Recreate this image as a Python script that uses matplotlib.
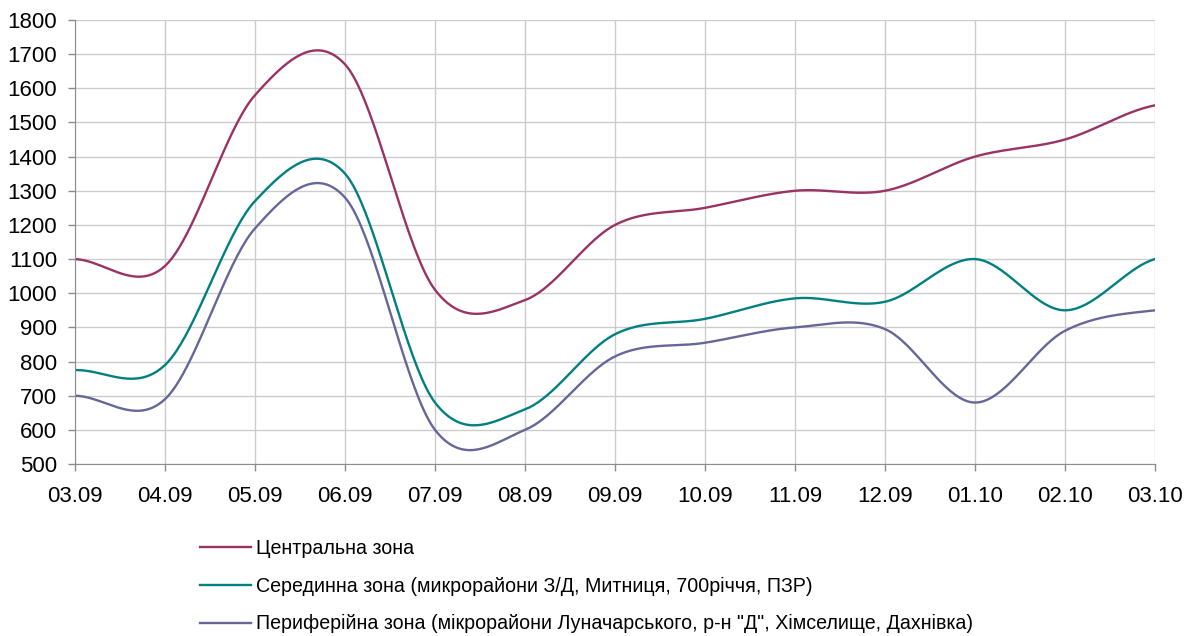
import numpy as np
import matplotlib.pyplot as plt

# categories (dates) and the three zone series
dates = ['03.09', '04.09', '05.09', '06.09', '07.09', '08.09', '09.09',
         '10.09', '11.09', '12.09', '01.10', '02.10', '03.10']
central = [1100, 1080, 1580, 1670, 1010, 980, 1200, 1250, 1300, 1300, 1400, 1450, 1550]
middle = [775, 790, 1270, 1350, 680, 660, 880, 925, 985, 975, 1100, 950, 1100]
outer = [700, 690, 1190, 1280, 600, 600, 815, 855, 900, 895, 680, 890, 950]

names = ['Центральна зона',
         'Серединна зона (микрорайони З/Д, Митниця, 700річчя, ПЗР)',
         'Периферійна зона (мікрорайони Луначарського, р-н "Д", Хімселище, Дахнівка)']
colors = ['#993366', '#008080', '#666699']


def smooth(y, n=40):
    # Excel-like smoothed line (Catmull-Rom through the data points)
    y = np.asarray(y, float)
    x = np.arange(len(y), dtype=float)
    m = np.zeros_like(y)
    m[1:-1] = (y[2:] - y[:-2]) / 2
    m[0] = (y[1] - y[0]) / 2
    m[-1] = (y[-1] - y[-2]) / 2
    xs, ys = [], []
    for i in range(len(y) - 1):
        t = np.linspace(0, 1, n, endpoint=False)
        h00 = 2 * t**3 - 3 * t**2 + 1
        h10 = t**3 - 2 * t**2 + t
        h01 = -2 * t**3 + 3 * t**2
        h11 = t**3 - t**2
        xs.append(x[i] + t)
        ys.append(h00 * y[i] + h10 * m[i] + h01 * y[i + 1] + h11 * m[i + 1])
    xs.append([x[-1]])
    ys.append([y[-1]])
    return np.concatenate(xs), np.concatenate(ys)


plt.rcParams['font.family'] = ['Liberation Sans', 'DejaVu Sans']

fig = plt.figure(figsize=(11.95, 6.36), dpi=100)
ax = fig.add_axes([0.0628, 0.2704, 0.9037, 0.6982])

for vals, name, c in zip([central, middle, outer], names, colors):
    sx, sy = smooth(vals)
    ax.plot(sx, sy, color=c, lw=1.7, label=name)

ax.set_xlim(0, len(dates) - 1)
ax.set_ylim(500, 1800)
ax.set_xticks(range(len(dates)))
ax.set_xticklabels(dates)
ax.set_yticks(range(500, 1801, 100))
ax.grid(True, color='#cccccc', lw=1)
ax.set_axisbelow(True)
for s in ['top', 'right']:
    ax.spines[s].set_visible(False)
for s in ['left', 'bottom']:
    ax.spines[s].set_color('#8c8c8c')
ax.tick_params(axis='both', labelsize=16, colors='#8c8c8c', labelcolor='black',
               length=5, width=1)
ax.tick_params(axis='y', pad=8)
ax.tick_params(axis='x', pad=11)

fig.legend(loc='upper left', bbox_to_anchor=(0.1674, 0.153), frameon=False,
           fontsize=14.1, handlelength=2.6, handletextpad=0.25, labelspacing=0.96,
           borderpad=0, borderaxespad=0)

fig.savefig('out.png', dpi=100)
